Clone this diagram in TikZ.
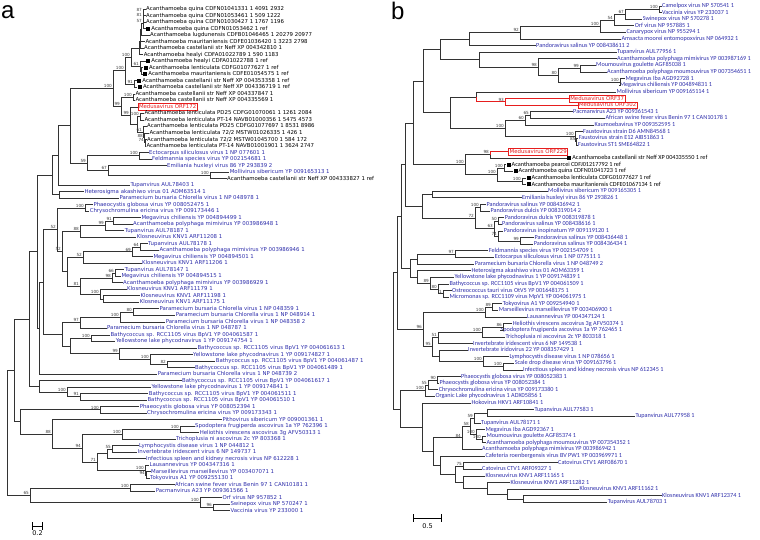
\documentclass[tikz,border=0pt]{standalone}
\usepackage{fontspec}
\setmainfont{Liberation Sans}
\newfontfamily\afont{DejaVu Sans}
\newfontfamily\bfont{Carlito}
\usetikzlibrary{calc}
\definecolor{vblue}{RGB}{45,45,170}
\definecolor{mred}{RGB}{230,30,30}

% tree helpers: leaf at (x,row), clade node between two children, bootstrap value
\newcommand\refbox{\raisebox{-0.3pt}{\rule{4pt}{4pt}}\hspace{1.2pt}}
\newcommand\tipn[5][]{\node[leaf,#1] (#2) at (#3,{\ya+(#4-1)*\dy}) {#5};}
\newcommand\clade[5][]{\path let \p1=($(#4)!.5!(#5)$) in coordinate (#2) at (#3pt,\y1);
  \draw[branch,#1] (#2) |- (#4); \draw[branch,#1] (#2) |- (#5);}
\newcommand\bsup[2]{\node[boot] (bs-#1) at (#1) {#2};}

\begin{document}
\begin{tikzpicture}[x=1pt, y=-1pt,
    leaf/.style={anchor=west, inner sep=0.3pt, text=vblue, text height=3.9pt, text depth=1.1pt},
    acan/.style={text=black},
    medu/.style={draw=mred, text=mred, line width=0.8pt, inner sep=0.9pt, font=\afont\fontsize{5.4}{6}\selectfont},
    branch/.style={draw=black!80, line width=1pt},
    medline/.style={draw=mred},
    boot/.style={anchor=south east, inner sep=0.3pt, xshift=-0.6pt, yshift=0.4pt, text=black!75, font=\afont\fontsize{4.2}{5}\selectfont},
    panel/.style={anchor=base west, inner sep=0pt, font=\fontsize{24}{26}\selectfont},
    scalebar/.style={|-|, line width=0.8pt},
  ]
  \useasboundingbox (0,0) rectangle (760,539);

  % ---------------- panel a ----------------
  \node[panel] (la) at (1,18.3) {a};
  \begin{scope}[leaf/.append style={font=\afont\fontsize{5.4}{6}\selectfont}]
    \def\ya{9.3}\def\dy{6.515}
    \tipn[acan]{a1}{145.7}{1}{Acanthamoeba quina CDFN01041331 1 4091 2932}
    \tipn[acan]{a2}{145.7}{2}{Acanthamoeba quina CDFN01053461 1 509 1222}
    \tipn[acan]{a3}{145.7}{3}{Acanthamoeba quina CDFN01030427 1 1767 1196}
    \tipn[acan]{a4}{145.7}{4}{\refbox Acanthamoeba quina CDFN01053462 1 ref}
    \tipn[acan]{a5}{149.7}{5}{Acanthamoeba lugdunensis CDFB01046465 1 20279 20977}
    \tipn[acan]{a6}{145}{6}{Acanthamoeba mauritaniensis CDFE01036420 1 3223 2798}
    \tipn[acan]{a7}{143.7}{7}{Acanthamoeba castellanii str Neff XP 004342810 1}
    \tipn[acan]{a8}{143.3}{8}{Acanthamoeba healyi CDFA01022789 1 590 1183}
    \tipn[acan]{a9}{145.7}{9}{\refbox Acanthamoeba healyi CDFA01022788 1 ref}
    \tipn[acan]{a10}{143.3}{10}{\refbox Acanthamoeba lenticulata CDFG01077627 1 ref}
    \tipn[acan]{a11}{142.7}{11}{\refbox Acanthamoeba mauritaniensis CDFE01054575 1 ref}
    \tipn[acan]{a12}{136.7}{12}{\refbox Acanthamoeba castellanii str Neff XP 004353358 1 ref}
    \tipn[acan]{a13}{137.3}{13}{\refbox Acanthamoeba castellanii str Neff XP 004336719 1 ref}
    \tipn[acan]{a14}{135}{14}{Acanthamoeba castellanii str Neff XP 004337847 1}
    \tipn[acan]{a15}{135}{15}{Acanthamoeba castellanii str Neff XP 004335569 1}
    \tipn[medu]{a16}{137.7}{16}{Medusavirus ORF172}
    \tipn[acan]{a17}{144}{17}{Acanthamoeba lenticulata PD25 CDFG01070061 1 1261 2084}
    \tipn[acan]{a18}{144}{18}{Acanthamoeba lenticulata PT-14 NAVB01000356 1 5475 4573}
    \tipn[acan]{a19}{146.7}{19}{Acanthamoeba lenticulata PD25 CDFG01077697 1 8531 8986}
    \tipn[acan]{a20}{149}{20}{Acanthamoeba lenticulata 72/2 MSTW01026335 1 426 1}
    \tipn[acan]{a21}{146.7}{21}{Acanthamoeba lenticulata 72/2 MSTW01045700 1 584 172}
    \tipn[acan]{a22}{146}{22}{Acanthamoeba lenticulata PT-14 NAVB01001901 1 3624 2747}
    \tipn{a23}{148.7}{23}{Ectocarpus siliculosus virus 1 NP 077601 1}
    \tipn{a24}{151.7}{24}{Feldmannia species virus YP 002154681 1}
    \tipn{a25}{166.7}{25}{Emiliania huxleyi virus 86 YP 293839 2}
    \tipn{a26}{229.3}{26}{Mollivirus sibericum YP 009165313 1}
    \tipn[acan]{a27}{226.7}{27}{Acanthamoeba castellanii str Neff XP 004333827 1 ref}
    \tipn{a28}{130}{28}{Tupanvirus AUL78403 1}
    \tipn{a29}{84}{29}{Heterosigma akashiwo virus 01 AOM63514 1}
    \tipn{a30}{119}{30}{Paramecium bursaria Chlorella virus 1 NP 048978 1}
    \tipn{a31}{93}{31}{Phaeocystis globosa virus YP 008052475 1}
    \tipn{a32}{89.3}{32}{Chrysochromulina ericina virus YP 009173446 1}
    \tipn{a33}{141}{33}{Megavirus chiliensis YP 004894499 1}
    \tipn{a34}{132.7}{34}{Acanthamoeba polyphaga mimivirus YP 003986948 1}
    \tipn{a35}{124.3}{35}{Tupanvirus AUL78187 1}
    \tipn{a36}{136.3}{36}{Klosneuvirus KNV1 ARF11208 1}
    \tipn{a37}{147.7}{37}{Tupanvirus AUL78178 1}
    \tipn{a38}{159}{38}{Acanthamoeba polyphaga mimivirus YP 003986946 1}
    \tipn{a39}{153}{39}{Megavirus chiliensis YP 004894501 1}
    \tipn{a40}{141.7}{40}{Klosneuvirus KNV1 ARF11206 1}
    \tipn{a41}{124.3}{41}{Tupanvirus AUL78147 1}
    \tipn{a42}{121}{42}{Megavirus chiliensis YP 004894515 1}
    \tipn{a43}{122.7}{43}{Acanthamoeba polyphaga mimivirus YP 003986929 1}
    \tipn{a44}{126.7}{44}{Klosneuvirus KNV1 ARF11179 1}
    \tipn{a45}{140}{45}{Klosneuvirus KNV1 ARF11198 1}
    \tipn{a46}{139.3}{46}{Klosneuvirus KNV1 ARF11175 1}
    \tipn{a47}{159}{47}{Paramecium bursaria Chlorella virus 1 NP 048359 1}
    \tipn{a48}{175.3}{48}{Paramecium bursaria Chlorella virus 1 NP 048914 1}
    \tipn{a49}{165.3}{49}{Paramecium bursaria Chlorella virus 1 NP 048358 2}
    \tipn{a50}{106.7}{50}{Paramecium bursaria Chlorella virus 1 NP 048787 1}
    \tipn{a51}{110}{51}{Bathycoccus sp. RCC1105 virus BpV1 YP 004061587 1}
    \tipn{a52}{115.3}{52}{Yellowstone lake phycodnavirus 1 YP 009174754 1}
    \tipn{a53}{197}{53}{Bathycoccus sp. RCC1105 virus BpV1 YP 004061613 1}
    \tipn{a54}{192.7}{54}{Yellowstone lake phycodnavirus 1 YP 009174827 1}
    \tipn{a55}{215.3}{55}{Bathycoccus sp. RCC1105 virus BpV1 YP 004061487 1}
    \tipn{a56}{194.7}{56}{Bathycoccus sp. RCC1105 virus BpV1 YP 004061489 1}
    \tipn{a57}{157.3}{57}{Paramecium bursaria Chlorella virus 1 NP 048739 2}
    \tipn{a58}{181.7}{58}{Bathycoccus sp. RCC1105 virus BpV1 YP 004061617 1}
    \tipn{a59}{151}{59}{Yellowstone lake phycodnavirus 1 YP 009174841 1}
    \tipn{a60}{148.3}{60}{Bathycoccus sp. RCC1105 virus BpV1 YP 004061511 1}
    \tipn{a61}{147}{61}{Bathycoccus sp. RCC1105 virus BpV1 YP 004061510 1}
    \tipn{a62}{139.3}{62}{Phaeocystis globosa virus YP 008052394 1}
    \tipn{a63}{146.7}{63}{Chrysochromulina ericina virus YP 009173343 1}
    \tipn{a64}{222}{64}{Pithovirus sibericum YP 009001361 1}
    \tipn{a65}{194.7}{65}{Spodoptera frugiperda ascovirus 1a YP 762396 1}
    \tipn{a66}{199.3}{66}{Heliothis virescens ascovirus 3g AFV50313 1}
    \tipn{a67}{175.7}{67}{Trichoplusia ni ascovirus 2c YP 803368 1}
    \tipn{a68}{138.7}{68}{Lymphocystis disease virus 1 NP 044812 1}
    \tipn{a69}{137.3}{69}{Invertebrate iridescent virus 6 NP 149737 1}
    \tipn{a70}{145.7}{70}{Infectious spleen and kidney necrosis virus NP 612228 1}
    \tipn{a71}{149}{71}{Lausannevirus YP 004347316 1}
    \tipn{a72}{150.7}{72}{Marseillevirus marseillevirus YP 003407071 1}
    \tipn{a73}{149.7}{73}{Tokyovirus A1 YP 009255130 1}
    \tipn{a74}{174.7}{74}{African swine fever virus Benin 97 1 CAN10181 1}
    \tipn{a75}{155.3}{75}{Pacmanvirus A23 YP 009361566 1}
    \tipn{a76}{222}{76}{Orf virus NP 957852 1}
    \tipn{a77}{230}{77}{Swinepox virus NP 570247 1}
    \tipn{a78}{230}{78}{Vaccinia virus YP 233000 1}

    % Acanthamoeba clade
    \clade{n87}{143}{a1}{a2}
    \clade{n81}{143}{n87}{a3}
    \clade{n57}{143}{n81}{a4}
    \clade{ng1}{141}{n57}{a5}
    \clade{ng2}{140.5}{ng1}{a6}
    \clade{ng3}{140}{ng2}{a7}
    \clade{ng4}{139.5}{ng3}{a8}
    \clade{n61a}{141.5}{a10}{a11}
    \clade{n61}{140}{a9}{n61a}
    \clade{n100a}{131}{ng4}{n61}
    \clade{n91}{134}{a12}{a13}
    \clade{n100b}{125}{n100a}{n91}
    \clade{n100c}{133}{a14}{a15}
    \clade{n74}{145}{a21}{a22}
    \clade{n88}{144}{a20}{n74}
    \clade{n61b}{143}{a19}{n88}
    \clade{n100d}{140}{a17}{a18}
    \clade{nlent}{137}{n100d}{n61b}
    \clade{n99b}{130}{a16}{nlent}
    \clade{n99a}{121}{n100c}{n99b}
    \clade{ntop}{113}{n100b}{n99a}
    % algal viruses and mollivirus
    \clade{nef}{139}{a23}{a24}
    \clade{nma}{210}{a26}{a27}
    \clade{n67}{108}{a25}{nma}
    \clade{n59}{87}{nef}{n67}
    \clade{nQ}{70}{ntop}{n59}
    \clade{nP}{58}{nQ}{a28}
    \clade{nHP}{59.3}{a29}{a30}
    \clade{nR}{52}{nP}{nHP}
    % mimiviruses
    \clade{nPC}{85}{a31}{a32}
    \clade{m91}{113}{a33}{a34}
    \clade{m99}{105}{m91}{a35}
    \clade{m88}{80}{m99}{a36}
    \clade{m64}{140}{a37}{a38}
    \clade{m69}{132}{m64}{a39}
    \clade{m52}{83}{m69}{a40}
    \clade{m66}{115}{a41}{a42}
    \clade{m98}{112}{m66}{a43}
    \clade{k9}{103}{a45}{a46}
    \clade{k100}{100}{a44}{k9}
    \clade{m81}{80}{m98}{k100}
    \clade{mX}{67}{m52}{m81}
    \clade{nB52}{62}{m88}{mX}
    \clade{nA52}{57}{nPC}{nB52}
    % chloroviruses and prasinoviruses
    \clade{p80}{133}{a47}{a48}
    \clade{p100}{120}{p80}{a49}
    \clade{p97}{80}{p100}{a50}
    \clade{y100}{91}{a51}{a52}
    \clade{y82}{167}{a55}{a56}
    \clade{y100b}{150}{a54}{y82}
    \clade{y99}{119}{a53}{y100b}
    \clade{yBY}{70}{y100}{y99}
    \clade{nPB}{62}{p97}{yBY}
    \clade{n43}{43}{nA52}{nPB}
    \clade{n39}{39}{n43}{a57}
    \clade{nRB}{37}{nR}{n39}
    \clade{w91}{80}{a60}{a61}
    \clade{w100}{67}{a59}{w91}
    \clade{nB58}{39}{a58}{w100}
    \clade{nV}{29}{nRB}{nB58}
    % pitho, asco, irido, marseille
    \clade{nPC2}{100}{a62}{a63}
    \clade{nSH}{180}{a65}{a66}
    \clade{nAsc}{122}{nSH}{a67}
    \clade{i55}{112}{a68}{a69}
    \clade{iIr}{107}{i55}{a70}
    \clade{s94}{146}{a72}{a73}
    \clade{sMa}{145}{a71}{s94}
    \clade{i71}{97}{iIr}{sMa}
    \clade{i94}{82}{nAsc}{i71}
    \clade{n88b}{52}{a64}{i94}
    \clade{nW}{20}{nPC2}{n88b}
    \clade{nU}{14}{nV}{nW}
    % asfv and poxviruses
    \clade{f100}{130}{a74}{a75}
    \clade{f96}{213}{a77}{a78}
    \clade{f100o}{200}{a76}{f96}
    \clade{f65}{30}{f100}{f100o}
    \clade{rootA}{7}{nU}{f65}

    \bsup{n87}{87} \bsup{n81}{81} \bsup{n57}{57} \bsup{n100a}{100} \bsup{n100b}{100}
    \bsup{n61}{61} \bsup{ntop}{100} \bsup{n91}{91} \bsup{n100c}{100} \bsup{n99a}{99}
    \bsup{n99b}{99} \bsup{n100d}{100} \bsup{n61b}{61} \bsup{n88}{88} \bsup{n74}{74}
    \bsup{nef}{100} \bsup{nma}{100} \bsup{n67}{67} \bsup{n59}{59} \bsup{nPC}{100}
    \bsup{m91}{91} \bsup{m99}{99} \bsup{m88}{88} \bsup{nA52}{52} \bsup{nB52}{52}
    \bsup{m52}{52} \bsup{m64}{64} \bsup{m69}{69} \bsup{m66}{66} \bsup{m98}{98}
    \bsup{k100}{100} \bsup{m81}{81} \bsup{p80}{80} \bsup{p100}{100} \bsup{p97}{97}
    \bsup{y100}{100} \bsup{y99}{99} \bsup{y100b}{100} \bsup{y82}{82} \bsup{w100}{100}
    \bsup{w91}{91} \bsup{nPC2}{100} \bsup{nSH}{100} \bsup{nAsc}{100} \bsup{n88b}{88}
    \bsup{i94}{94} \bsup{i55}{55} \bsup{i71}{71} \bsup{sMa}{100} \bsup{s94}{94}
    \bsup{f100}{100} \bsup{f100o}{100} \bsup{f96}{96} \bsup{f65}{65}
  \end{scope}
  \coordinate (sa1) at (32,526);
  \coordinate (sa2) at (43,526);
  \draw[scalebar] (sa1) -- (sa2);
  \node[font=\afont\fontsize{6.5}{7}\selectfont] (sal) at (37.5,533) {0.2};

  % ---------------- panel b ----------------
  \node[panel] (lb) at (391,19.3) {b};
  \begin{scope}[leaf/.append style={font=\bfont\fontsize{6.2}{7}\selectfont}]
    \def\ya{6}\def\dy{6.62}
    \tipn{b1}{661.7}{1}{Camelpox virus NP 570541 1}
    \tipn{b2}{661.7}{2}{Vaccinia virus YP 233037 1}
    \tipn{b3}{642.3}{3}{Swinepox virus NP 570278 1}
    \tipn{b4}{634.3}{4}{Orf virus NP 957885 1}
    \tipn{b5}{626}{5}{Canarypox virus NP 955294 1}
    \tipn{b6}{621}{6}{Amsacta moorei entomopoxvirus NP 064932 1}
    \tipn{b7}{535.7}{7}{Pandoravirus salinus YP 008438611 2}
    \tipn{b8}{616.7}{8}{Tupanvirus AUL77956 1}
    \tipn{b9}{616.7}{9}{Acanthamoeba polyphaga mimivirus YP 003987169 1}
    \tipn{b10}{595.7}{10}{Moumouvirus goulette AGF85038 1}
    \tipn{b11}{606.7}{11}{Acanthamoeba polyphaga moumouvirus YP 007354651 1}
    \tipn{b12}{625}{12}{Megavirus Iba AGD92728 1}
    \tipn{b13}{619.3}{13}{Megavirus chiliensis YP 004894831 1}
    \tipn{b14}{616}{14}{Mollivirus sibericum YP 009165114 1}
    \tipn[medu]{b15}{569}{15}{Medusavirus ORF37}
    \tipn[medu]{b16}{577.7}{16}{Medusavirus ORF302}
    \tipn{b17}{572.7}{17}{Pacmanvirus A23 YP 009361543 1}
    \tipn{b18}{605}{18}{African swine fever virus Benin 97 1 CAN10178 1}
    \tipn{b19}{594}{19}{Kaumoebavirus YP 009352595 1}
    \tipn{b20}{582.7}{20}{Faustovirus strain D6 AMN84568 1}
    \tipn{b21}{578.3}{21}{Faustovirus strain E12 AIB51863 1}
    \tipn{b22}{577.7}{22}{Faustovirus ST1 SME64822 1}
    \tipn[medu]{b23}{508.3}{23}{Medusavirus ORF229}
    \tipn[acan]{b24}{566.7}{24}{\refbox Acanthamoeba castellanii str Neff XP 004335550 1 ref}
    \tipn[acan]{b25}{506}{25}{\refbox Acanthamoeba pearcei CDFJ01217792 1 ref}
    \tipn[acan]{b26}{513}{26}{\refbox Acanthamoeba quina CDFN01041723 1 ref}
    \tipn[acan]{b27}{526}{27}{\refbox Acanthamoeba lenticulata CDFG01077627 1 ref}
    \tipn[acan]{b28}{526}{28}{\refbox Acanthamoeba mauritaniensis CDFE01067134 1 ref}
    \tipn{b29}{547.7}{29}{Mollivirus sibericum YP 009165305 1}
    \tipn{b30}{521.7}{30}{Emiliania huxleyi virus 86 YP 293826 1}
    \tipn{b31}{486}{31}{Pandoravirus salinus YP 008436942 1}
    \tipn{b32}{490}{32}{Pandoravirus dulcis YP 008319014 2}
    \tipn{b33}{504.3}{33}{Pandoravirus dulcis YP 008319878 1}
    \tipn{b34}{501.7}{34}{Pandoravirus salinus YP 008438616 1}
    \tipn{b35}{503.3}{35}{Pandoravirus inopinatum YP 009119120 1}
    \tipn{b36}{534}{36}{Pandoravirus salinus YP 008436448 1}
    \tipn{b37}{533.3}{37}{Pandoravirus salinus YP 008436434 1}
    \tipn{b38}{488.3}{38}{Feldmannia species virus YP 002154709 1}
    \tipn{b39}{494.3}{39}{Ectocarpus siliculosus virus 1 NP 077511 1}
    \tipn{b40}{474.3}{40}{Paramecium bursaria Chlorella virus 1 NP 048749 2}
    \tipn{b41}{471}{41}{Heterosigma akashiwo virus 01 AOM63359 1}
    \tipn{b42}{454}{42}{Yellowstone lake phycodnavirus 1 YP 009174839 1}
    \tipn{b43}{449}{43}{Bathycoccus sp. RCC1105 virus BpV1 YP 004061509 1}
    \tipn{b44}{451.7}{44}{Ostreococcus tauri virus OtV5 YP 001648175 1}
    \tipn{b45}{449}{45}{Micromonas sp. RCC1109 virus MpV1 YP 004061975 1}
    \tipn{b46}{502.3}{46}{Tokyovirus A1 YP 009254940 1}
    \tipn{b47}{498.3}{47}{Marseillevirus marseillevirus YP 003406900 1}
    \tipn{b48}{526.7}{48}{Lausannevirus YP 004347124 1}
    \tipn{b49}{512.3}{49}{Heliothis virescens ascovirus 3g AFV50374 1}
    \tipn{b50}{500}{50}{Spodoptera frugiperda ascovirus 1a YP 762465 1}
    \tipn{b51}{505}{51}{Trichoplusia ni ascovirus 2c YP 803318 1}
    \tipn{b52}{472.7}{52}{Invertebrate iridescent virus 6 NP 149538 1}
    \tipn{b53}{467.7}{53}{Invertebrate iridovirus 22 YP 008357429 1}
    \tipn{b54}{509}{54}{Lymphocystis disease virus 1 NP 078656 1}
    \tipn{b55}{514.3}{55}{Scale drop disease virus YP 009163796 1}
    \tipn{b56}{522.7}{56}{Infectious spleen and kidney necrosis virus NP 612345 1}
    \tipn{b57}{460.7}{57}{Phaeocystis globosa virus YP 008052383 1}
    \tipn{b58}{439}{58}{Phaeocystis globosa virus YP 008052384 1}
    \tipn{b59}{438.3}{59}{Chrysochromulina ericina virus YP 009173380 1}
    \tipn{b60}{435}{60}{Organic Lake phycodnavirus 1 ADX05856 1}
    \tipn{b61}{471}{61}{Hokovirus HKV1 ARF10841 1}
    \tipn{b62}{534}{62}{Tupanvirus AUL77583 1}
    \tipn{b63}{635}{63}{Tupanvirus AUL77958 1}
    \tipn{b64}{480.7}{64}{Tupanvirus AUL78171 1}
    \tipn{b65}{485}{65}{Megavirus Iba AGD92367 1}
    \tipn{b66}{486}{66}{Moumouvirus goulette AGF85374 1}
    \tipn{b67}{486}{67}{Acanthamoeba polyphaga moumouvirus YP 007354352 1}
    \tipn{b68}{481.7}{68}{Acanthamoeba polyphaga mimivirus YP 003986942 1}
    \tipn{b69}{485}{69}{Cafeteria roenbergensis virus BV PW1 YP 003969971 1}
    \tipn{b70}{557.7}{70}{Catovirus CTV1 ARF08670 1}
    \tipn{b71}{481.7}{71}{Catovirus CTV1 ARF09327 1}
    \tipn{b72}{485}{72}{Klosneuvirus KNV1 ARF11165 1}
    \tipn{b73}{510}{73}{Klosneuvirus KNV1 ARF11282 1}
    \tipn{b74}{579}{74}{Klosneuvirus KNV1 ARF11162 1}
    \tipn{b75}{661.7}{75}{Klosneuvirus KNV1 ARF12374 1}
    \tipn{b76}{607.3}{76}{Tupanvirus AUL78703 1}

    % poxviruses, pandoravirus, mimiviruses
    \clade{c100}{659}{b1}{b2}
    \clade{c67}{625}{c100}{b3}
    \clade{c54}{614}{c67}{b4}
    \clade{c100p}{600}{c54}{b5}
    \clade{c92}{520}{c100p}{b6}
    \clade{cJ}{469}{c92}{b7}
    \clade{c99}{580}{b10}{b11}
    \clade{c100m}{620}{b12}{b13}
    \clade{c80}{558}{c99}{c100m}
    \clade{c98}{538}{b9}{c80}
    \clade{cT}{479}{b8}{c98}
    \clade{cL}{440}{cJ}{cT}
    % medusavirus paralogs
    \clade[medline]{c93}{505}{b15}{b16}
    \path let \p1=($(b14)!.5!(c93)$) in coordinate (cMM) at (476pt,\y1);
    \draw[branch] (cMM) |- (b14);
    \draw[branch,medline] (cMM) |- (c93);
    \clade{c65}{530}{b17}{b18}
    \clade{c60}{525}{c65}{b19}
    \clade{c85}{576.5}{b21}{b22}
    \clade{c100f}{575}{b20}{c85}
    \clade{c100pf}{505}{c60}{c100f}
    \clade{cN1}{450}{cMM}{c100pf}
    \clade{cN2}{423}{cL}{cN1}
    \path let \p1=($(b23)!.5!(b24)$) in coordinate (c98a) at (490pt,\y1);
    \draw[branch,medline] (c98a) |- (b23);
    \draw[branch] (c98a) |- (b24);
    \clade{c100pq}{504}{b25}{b26}
    \clade{c100lm}{522}{b27}{b28}
    \clade{c100acq}{497}{c100pq}{c100lm}
    \clade{cMA}{465}{c98a}{c100acq}
    \clade{cN3}{413}{cN2}{cMA}
    % pandoraviruses and phycodnaviruses
    \clade{cME}{432}{b29}{b30}
    \clade{cpd}{480}{b31}{b32}
    \clade{c50}{498}{b33}{b34}
    \clade{c99s}{520}{b36}{b37}
    \clade{c74}{498}{b35}{c99s}
    \clade{c63}{494}{c50}{c74}
    \clade{c72}{475}{cpd}{c63}
    \clade{cMEP}{422}{cME}{c72}
    \clade{cN4}{405}{cN3}{cMEP}
    \clade{c97}{455}{b38}{b39}
    \clade{cFEP}{417}{c97}{b40}
    \clade{c1o}{443}{b44}{b45}
    \clade{c80y}{438}{b43}{c1o}
    \clade{c89y}{430}{b42}{c80y}
    \clade{cHY}{417}{b41}{c89y}
    \clade{cN5}{410}{cFEP}{cHY}
    \clade{cN6}{401}{cN4}{cN5}
    % marseille, asco, irido
    \clade{c89m}{492}{b46}{b47}
    \clade{c100ma}{485}{c89m}{b48}
    \clade{c86}{503}{b49}{b50}
    \clade{c100as}{482}{c86}{b51}
    \clade{c51}{438}{c100as}{b52}
    \clade{c100si}{503}{b55}{b56}
    \clade{c100l}{483}{b54}{c100si}
    \clade{cII}{439}{b53}{c100l}
    \clade{c95}{432}{c51}{cII}
    \clade{c96}{423}{c100ma}{c95}
    \clade{cN7}{397}{cN6}{c96}
    % phaeocystis, tupan and klosneuviruses
    \clade{c90}{437}{b57}{b58}
    \clade{c55}{428}{c90}{b59}
    \clade{c100ph}{425}{c55}{b60}
    \clade{cTT}{487}{b62}{b63}
    \clade{c59}{474}{cTT}{b64}
    \clade{c100mm}{482}{b66}{b67}
    \clade{c100mi}{476}{b65}{c100mm}
    \clade{c58}{470}{c59}{c100mi}
    \clade{c84}{462}{c58}{b68}
    \clade{c75}{463}{b70}{b71}
    \clade{cKT}{523}{b75}{b76}
    \clade{cK3}{507}{b74}{cKT}
    \clade{cK2}{487}{b73}{cK3}
    \clade{cK1}{463}{b72}{cK2}
    \clade{cCK}{455}{c75}{cK1}
    \clade{cCCK}{440}{b69}{cCK}
    \clade{c84C}{433}{c84}{cCCK}
    \clade{cHok}{422}{b61}{c84C}
    \clade{cPH}{400}{c100ph}{cHok}
    \clade{rootB}{393}{cN7}{cPH}

    \bsup{c100}{100} \bsup{c67}{67} \bsup{c54}{54} \bsup{c100p}{100} \bsup{c92}{92}
    \bsup{c98}{98} \bsup{c99}{99} \bsup{c80}{80} \bsup{c100m}{100} \bsup{c93}{93}
    \bsup{c65}{65} \bsup{c60}{60} \bsup{c100pf}{100} \bsup{c100f}{100} \bsup{c85}{85}
    \bsup{c98a}{98} \bsup{cMA}{100} \bsup{c100pq}{100} \bsup{c100acq}{100} \bsup{c100lm}{100}
    \bsup{cpd}{100} \bsup{c72}{72} \bsup{c50}{50} \bsup{c63}{63} \bsup{c74}{74}
    \bsup{c99s}{99} \bsup{c97}{97} \bsup{c89y}{89} \bsup{c80y}{80} \bsup{c1o}{1}
    \bsup{c89m}{89} \bsup{c100ma}{100} \bsup{c86}{86} \bsup{c100as}{100} \bsup{c51}{51}
    \bsup{c95}{95} \bsup{c100l}{100} \bsup{c100si}{100} \bsup{c96}{96} \bsup{c90}{90}
    \bsup{c55}{55} \bsup{c100ph}{100} \bsup{c59}{59} \bsup{c58}{58} \bsup{c100mi}{100}
    \bsup{c100mm}{100} \bsup{c84}{84} \bsup{c75}{75}
  \end{scope}
  \coordinate (sb1) at (413,518);
  \coordinate (sb2) at (442,518);
  \draw[scalebar] (sb1) -- (sb2);
  \node[font=\afont\fontsize{6.5}{7}\selectfont] (sbl) at (427.5,526) {0.5};
\end{tikzpicture}
\end{document}
